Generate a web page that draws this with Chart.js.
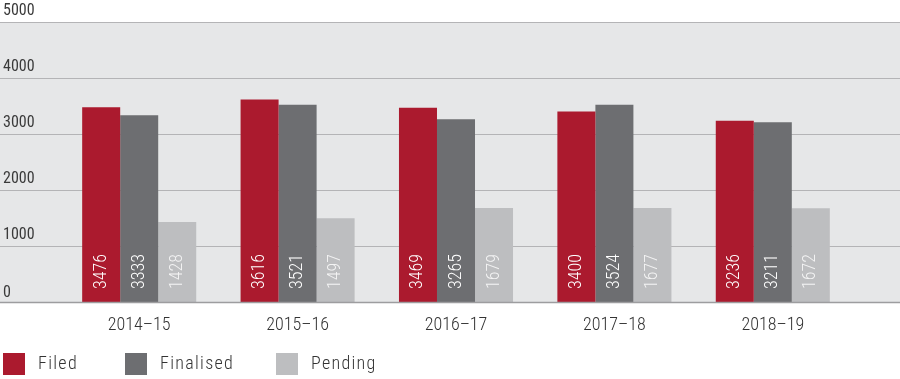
<!DOCTYPE html>
<html>
<head>
<meta charset="utf-8">
<script src="https://cdn.jsdelivr.net/npm/chart.js@4.4.1/dist/chart.umd.min.js"></script>
<style>
html,body{margin:0;padding:0;background:#fff;}
#c{display:block;}
</style>
</head>
<body>
<canvas id="c" width="900" height="379"></canvas>
<script>
const categories = ['2014–15', '2015–16', '2016–17', '2017–18', '2018–19'];
const filed = [3476, 3616, 3469, 3400, 3236];
const finalised = [3333, 3521, 3265, 3524, 3211];
const pending = [1428, 1497, 1679, 1677, 1672];
const yTicks = [0, 1000, 2000, 3000, 4000, 5000];
const seriesNames = ['Filed', 'Finalised', 'Pending'];

const FONT = "'Roboto Condensed', 'Liberation Sans Narrow', 'DejaVu Sans Condensed', 'Roboto', sans-serif";
const colors = ['#ab1a2e', '#6d6e71', '#bdbec0'];

const decor = {
  id: 'decor',
  beforeDatasetsDraw(chart) {
    const ctx = chart.ctx, y = chart.scales.y, W = chart.width;
    const top = y.getPixelForValue(yTicks[yTicks.length - 1]);
    const bot = y.getPixelForValue(0);
    ctx.save();
    ctx.fillStyle = '#e6e7e8';
    ctx.fillRect(0, top, W, bot - top);
    ctx.strokeStyle = '#b4b4b6';
    ctx.lineWidth = 1.2;
    yTicks.forEach(t => {
      const py = Math.round(y.getPixelForValue(t)) + 0.5;
      ctx.beginPath(); ctx.moveTo(0, py); ctx.lineTo(W, py); ctx.stroke();
    });
    ctx.fillStyle = '#3a3a3a';
    ctx.font = '400 16px ' + FONT;
    ctx.textAlign = 'left';
    ctx.textBaseline = 'bottom';
    yTicks.forEach(t => {
      const py = y.getPixelForValue(t);
      ctx.fillText(String(t), 3, py - (t === 0 ? 1 : 3));
    });
    ctx.restore();
  },
  afterDatasetsDraw(chart) {
    const ctx = chart.ctx, y = chart.scales.y, x = chart.scales.x, W = chart.width;
    const bot = y.getPixelForValue(0);
    ctx.save();
    // data labels
    ctx.font = '300 18px ' + FONT;
    ctx.textAlign = 'left';
    ctx.textBaseline = 'middle';
    chart.data.datasets.forEach((ds, i) => {
      const meta = chart.getDatasetMeta(i);
      meta.data.forEach((bar, j) => {
        ctx.save();
        ctx.translate(bar.x, bot - 13);
        ctx.rotate(-Math.PI / 2);
        ctx.fillStyle = i === 2 ? '#f4f4f4' : '#ffffff';
        ctx.fillText(String(ds.data[j]), 0, 0);
        ctx.restore();
      });
    });
    // baseline
    ctx.strokeStyle = '#9d9d9f';
    ctx.lineWidth = 1.3;
    ctx.beginPath(); ctx.moveTo(0, Math.round(bot) + 0.5); ctx.lineTo(W, Math.round(bot) + 0.5); ctx.stroke();
    // category labels
    ctx.fillStyle = '#333333';
    ctx.font = '300 18px ' + FONT;
    ctx.textAlign = 'center';
    ctx.textBaseline = 'middle';
    categories.forEach((c, j) => {
      ctx.fillText(c, x.getPixelForValue(j), bot + 23);
    });
    // legend
    const boxX = [3, 125, 276];
    ctx.textAlign = 'left';
    ctx.font = '300 18px ' + FONT;
    if ('letterSpacing' in ctx) ctx.letterSpacing = '1.3px';
    seriesNames.forEach((n, i) => {
      ctx.fillStyle = colors[i];
      ctx.fillRect(boxX[i], 353, 22, 22);
      ctx.fillStyle = '#333333';
      ctx.fillText(n, boxX[i] + 35, 364);
    });
    ctx.restore();
  }
};

new Chart(document.getElementById('c'), {
  type: 'bar',
  data: {
    labels: categories,
    datasets: [
      { label: seriesNames[0], data: filed, backgroundColor: colors[0] },
      { label: seriesNames[1], data: finalised, backgroundColor: colors[1] },
      { label: seriesNames[2], data: pending, backgroundColor: colors[2] }
    ]
  },
  options: {
    responsive: false,
    devicePixelRatio: 1,
    animation: false,
    layout: { padding: { left: 60, right: 48, top: 22, bottom: 77 } },
    datasets: { bar: { categoryPercentage: 0.72, barPercentage: 1.0, borderWidth: 0 } },
    scales: {
      x: { display: false },
      y: { display: false, min: 0, max: 5000 }
    },
    plugins: { legend: { display: false }, tooltip: { enabled: false } }
  },
  plugins: [decor]
});
</script>
</body>
</html>
